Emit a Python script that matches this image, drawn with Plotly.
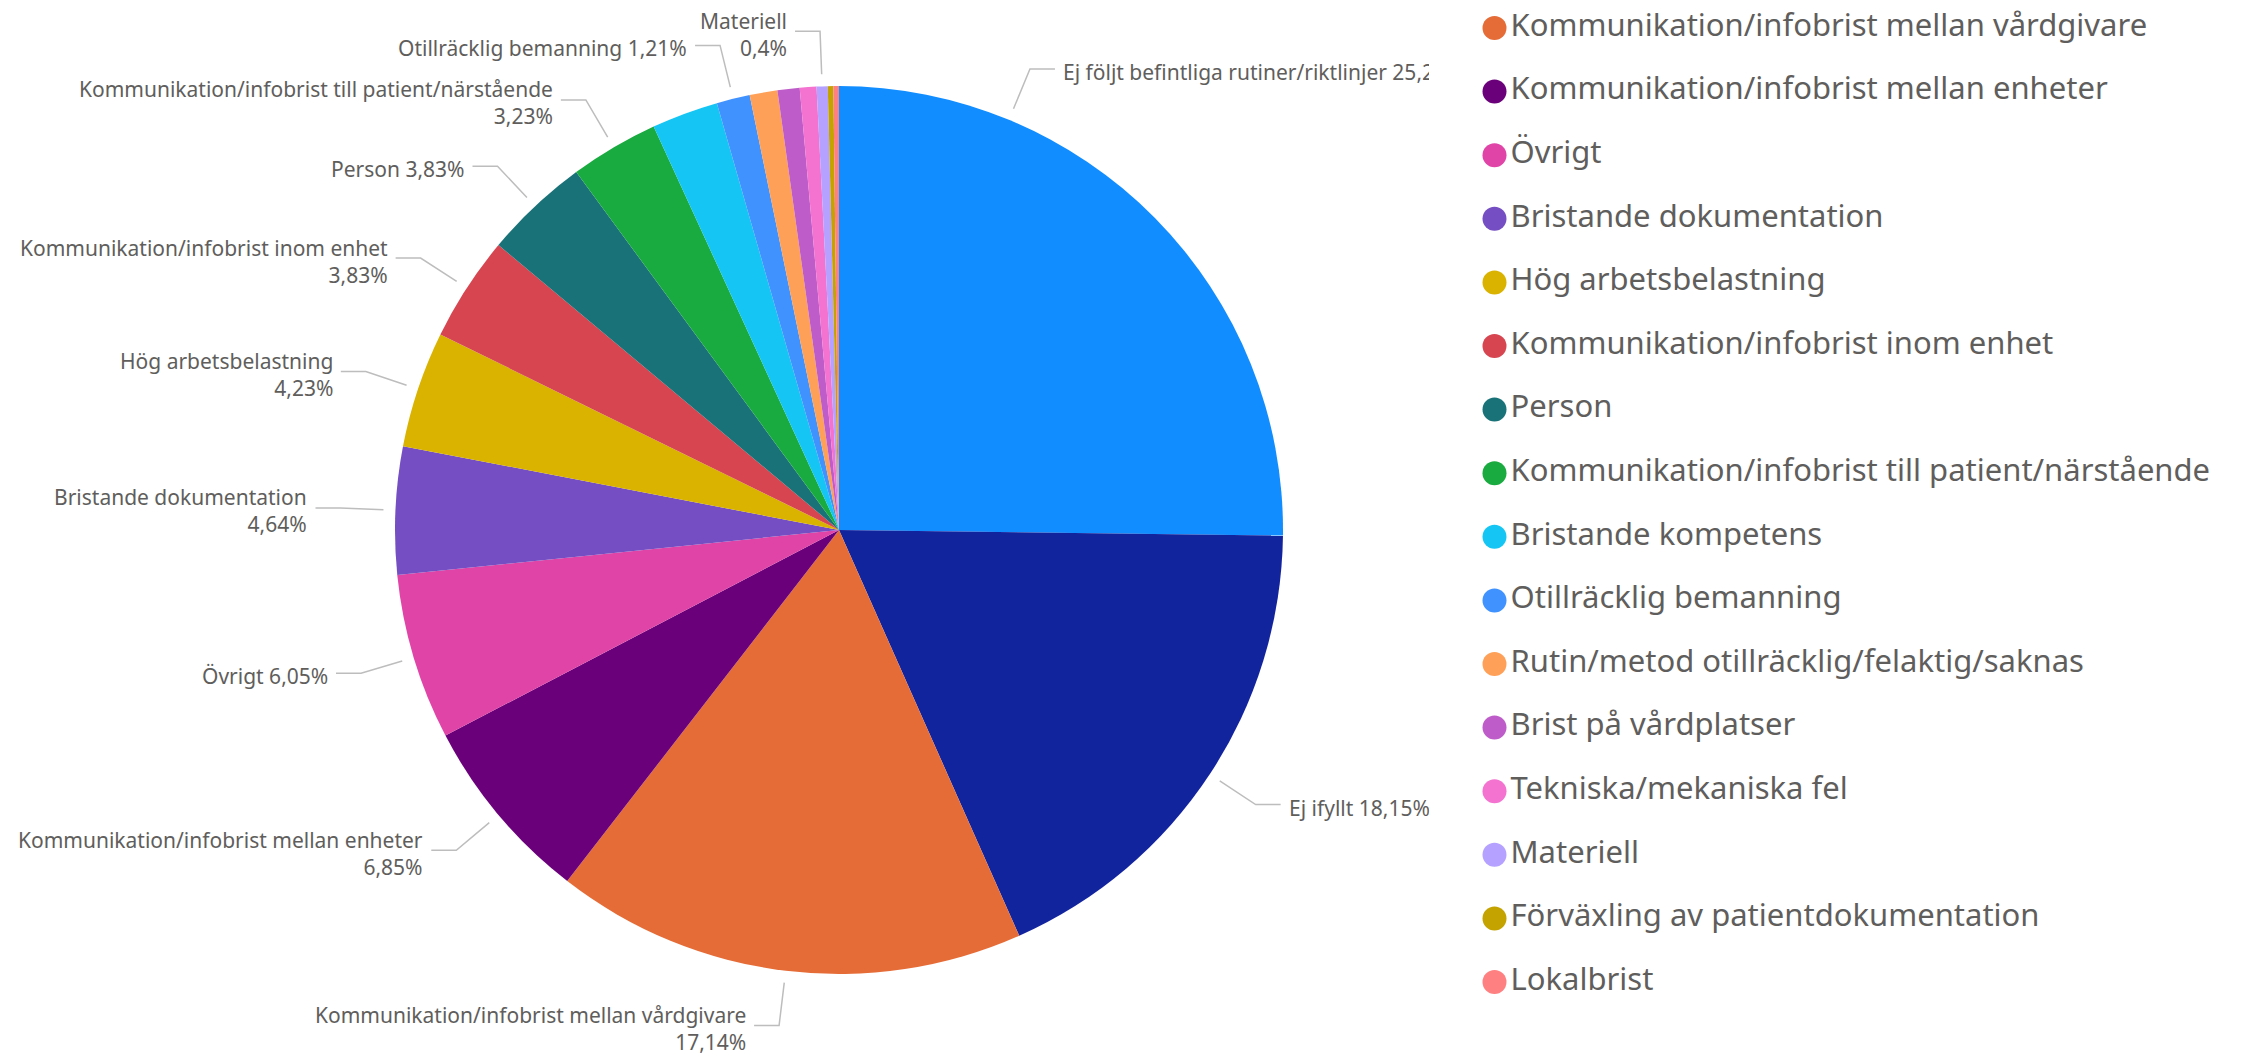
import math
import plotly.graph_objects as go

# ---------------- data ----------------
categories = [
    "Ej följt befintliga rutiner/riktlinjer",
    "Ej ifyllt",
    "Kommunikation/infobrist mellan vårdgivare",
    "Kommunikation/infobrist mellan enheter",
    "Övrigt",
    "Bristande dokumentation",
    "Hög arbetsbelastning",
    "Kommunikation/infobrist inom enhet",
    "Person",
    "Kommunikation/infobrist till patient/närstående",
    "Bristande kompetens",
    "Otillräcklig bemanning",
    "Rutin/metod otillräcklig/felaktig/saknas",
    "Brist på vårdplatser",
    "Tekniska/mekaniska fel",
    "Materiell",
    "Förväxling av patientdokumentation",
    "Lokalbrist",
]
counts = [125, 90, 85, 34, 30, 23, 21, 19, 19, 16, 12, 6, 5, 4, 3, 2, 1, 1]

colors = [
    "#118DFF", "#12239E", "#E66C37", "#6B007B", "#E044A7", "#744EC2",
    "#D9B300", "#D64550", "#197278", "#1AAB40", "#15C6F4", "#4092FF",
    "#FFA058", "#BE5DC9", "#F472D0", "#B5A1FF", "#C4A200", "#FF8080",
]

# which slices carry a data label, and whether it is split on two lines
label_lines = {
    "Ej följt befintliga rutiner/riktlinjer": 1,
    "Ej ifyllt": 1,
    "Kommunikation/infobrist mellan vårdgivare": 2,
    "Kommunikation/infobrist mellan enheter": 2,
    "Övrigt": 1,
    "Bristande dokumentation": 2,
    "Hög arbetsbelastning": 2,
    "Kommunikation/infobrist inom enhet": 2,
    "Person": 1,
    "Kommunikation/infobrist till patient/närstående": 2,
    "Otillräcklig bemanning": 1,
    "Materiell": 2,
}

# ---------------- layout constants ----------------
W, H = 2242, 1058
CX, CY, R = 839, 530, 444
R_START, R_ELBOW = R + 12, R + 55
H_LEN, GAP = 25, 7
CLIP_X = 1428            # right edge of the chart area (labels are cut there)
LEGEND_OFFSET = 2        # legend is scrolled by two entries
ANGLE_OVERRIDE = {"Ej följt befintliga rutiner/riktlinjer": 22.5}
TEXT = "#605E5C"
LINE = "#BDBDBD"
FONT = "Noto Sans"

total = sum(counts)


def pct_text(v):
    s = f"{v / total * 100:.2f}".rstrip("0").rstrip(".")
    return s.replace(".", ",") + "%"


fig = go.Figure()

fig.add_trace(go.Pie(
    labels=categories,
    values=counts,
    marker=dict(colors=colors, line=dict(width=0)),
    sort=False,
    direction="clockwise",
    rotation=0,
    textinfo="none",
    hoverinfo="label+percent",
    showlegend=False,
    domain=dict(x=[(CX - R) / W, (CX + R) / W],
                y=[1 - (CY + R) / H, 1 - (CY - R) / H]),
))

# ---------------- legend (scrolled view) ----------------
leg_cats = categories[LEGEND_OFFSET:]
leg_cols = colors[LEGEND_OFFSET:]
n = len(leg_cats)
fig.add_trace(go.Scatter(
    x=[0] * n,
    y=list(range(n)),
    mode="markers+text",
    marker=dict(size=24, color=leg_cols, line=dict(width=0)),
    text=leg_cats,
    textposition="middle right",
    textfont=dict(family=FONT, size=31, color=TEXT),
    cliponaxis=False,
    showlegend=False,
    hoverinfo="skip",
))
row0, rowN = 28, 982
step = (rowN - row0) / (n - 1)
y_top = -row0 / step
y_bot = y_top + H / step
fig.update_yaxes(range=[y_bot, y_top], domain=[0, 1], visible=False, fixedrange=True)
fig.update_xaxes(range=[0, 1], domain=[1494.5 / W, 1], visible=False, fixedrange=True)

# ---------------- data labels with leader lines ----------------
shapes, annotations = [], []
cum = 0
for cat, v in zip(categories, counts):
    mid = (cum + v / 2) / total * 360
    cum += v
    if cat not in label_lines:
        continue
    a = math.radians(ANGLE_OVERRIDE.get(cat, mid))
    sx, sy = CX + R_START * math.sin(a), CY - R_START * math.cos(a)
    ex, ey = CX + R_ELBOW * math.sin(a), CY - R_ELBOW * math.cos(a)
    right = math.sin(a) >= 0
    hx = ex + H_LEN if right else ex - H_LEN
    path = (f"M {sx / W},{1 - sy / H} L {ex / W},{1 - ey / H} "
            f"L {hx / W},{1 - ey / H}")
    shapes.append(dict(type="path", path=path, xref="paper", yref="paper",
                       line=dict(color=LINE, width=1.5), layer="above"))
    sep = "<br>" if label_lines[cat] == 2 else " "
    txt = cat + sep + pct_text(v)
    tx = hx + GAP if right else hx - GAP
    ann = dict(
        x=tx / W, y=1 - (ey + 3) / H, xref="paper", yref="paper",
        text=txt, showarrow=False,
        xanchor="left" if right else "right", yanchor="middle",
        align="left" if right else "right",
        font=dict(family=FONT, size=21, color=TEXT),
        borderpad=0,
    )
    if right:
        ann["width"] = CLIP_X - tx
    annotations.append(ann)

fig.update_layout(
    width=W, height=H,
    margin=dict(l=0, r=0, t=0, b=0),
    paper_bgcolor="white",
    plot_bgcolor="white",
    shapes=shapes,
    annotations=annotations,
    font=dict(family=FONT, color=TEXT),
    showlegend=False,
)

fig.write_html("out.html", config={"displayModeBar": False},
               post_script="document.body.style.margin='0';")
